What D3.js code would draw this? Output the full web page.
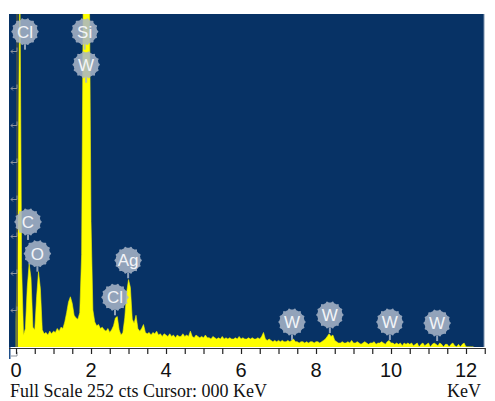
<!DOCTYPE html>
<html>
<head>
<meta charset="utf-8">
<script src="https://cdn.jsdelivr.net/npm/d3@7"></script>
<style>
  html, body { margin: 0; padding: 0; background: #ffffff; }
  svg { display: block; }
</style>
</head>
<body>
<svg id="chart" width="495" height="401"></svg>
<script>
// EDS spectrum: counts per 0.05 keV channel, starting at 0 keV
const channelWidth = 0.05;
const counts = [
  20, 80, 300, 60, 9, 14, 45, 63, 52, 15,
  13, 38, 57, 44, 13, 10, 11, 9, 12, 10,
  12, 11, 14, 12, 15, 14, 19, 26, 34, 38,
  33, 24, 22, 21, 26, 70, 300, 300, 300, 300,
  95, 28, 19, 16, 17, 14, 15, 13, 12, 14,
  11, 13, 16, 22, 23, 13, 9, 11, 22, 41,
  51, 45, 21, 18, 24, 14, 12, 14, 17, 11,
  10, 11, 9, 11, 10, 12, 9, 10, 8, 10,
  9, 8, 10, 8, 9, 7, 9, 8, 8, 10,
  8, 9, 8, 12, 8, 7, 9, 8, 7, 8,
  7, 9, 7, 7, 6, 8, 7, 6, 7, 6,
  8, 6, 7, 6, 7, 6, 6, 7, 6, 8,
  6, 7, 6, 6, 7, 6, 7, 6, 6, 7,
  6, 8, 11, 6, 5, 6, 5, 4, 5, 4,
  5, 4, 5, 4, 4, 5, 4, 5, 6, 4,
  4, 3, 4, 4, 3, 4, 3, 4, 4, 3,
  4, 4, 3, 4, 5, 6, 8, 10, 8, 9,
  5, 4, 3, 3, 4, 3, 3, 4, 3, 5,
  3, 3, 4, 3, 2, 3, 4, 3, 2, 3,
  3, 4, 2, 3, 3, 4, 3, 2, 4, 5,
  3, 3, 2, 3, 2, 3, 1, 3, 2, 3,
  2, 3, 1, 2, 3, 0, 2, 3, 1, 2,
  3, 0, 2, 3, 2, 1, 3, 2, 0, 2,
  2, 0, 2, 3, 1, 0, 2, 0, 2, 3,
  0, 0, 0, 0, 0
];

// Axis ticks
const xTickLabels = [0, 2, 4, 6, 8, 10, 12];
const xMinorStep = 0.5;
const fullScale = 252;
const yTickStep = 28;

// Element markers: symbol, line energy (keV), counts at the marker tip
const markerNames = ["Cl", "Si", "W", "C", "O", "Ag", "Cl", "W", "W", "W", "W"];
const markerKeV   = [0.24, 1.83, 1.87, 0.32, 0.57, 2.99, 2.64, 7.36, 8.37, 9.97, 11.23];
const markerCts   = [225, 225, 200, 81, 57, 52, 24, 5.3, 10.6, 5.3, 4.5];

const svg = d3.select("#chart");
const plot = { left: 9, right: 484, top: 14, bottom: 347 };

const x = d3.scaleLinear().domain([-0.187, 12.48]).range([plot.left, plot.right]);
const y = d3.scaleLinear().domain([0, fullScale]).range([plot.bottom, plot.top]);

// Dark panel
svg.append("rect")
  .attr("x", plot.left).attr("y", plot.top)
  .attr("width", plot.right - plot.left).attr("height", plot.bottom - plot.top)
  .attr("fill", "#073265");

// Thin lighter border on the right edge of the panel
svg.append("line")
  .attr("x1", plot.right).attr("x2", plot.right)
  .attr("y1", plot.top).attr("y2", plot.bottom)
  .attr("stroke", "#7f93ad").attr("stroke-width", 1);

// Left strip running below the panel
svg.append("rect")
  .attr("x", plot.left).attr("y", plot.bottom)
  .attr("width", 1.5).attr("height", 12)
  .attr("fill", "#1f4f8a");

svg.append("clipPath").attr("id", "clip")
  .append("rect")
  .attr("x", plot.left).attr("y", plot.top)
  .attr("width", plot.right - plot.left).attr("height", plot.bottom - plot.top);

// Spectrum
const spectrum = counts.map((c, i) => ({ e: i * channelWidth, c }));
const area = d3.area()
  .x(d => x(d.e))
  .y0(y(0))
  .y1(d => y(d.c));

svg.append("path")
  .datum(spectrum)
  .attr("clip-path", "url(#clip)")
  .attr("d", area)
  .attr("fill", "#ffff00")
  .attr("stroke", "#f2f200")
  .attr("stroke-width", 0.6);

// Vertical counts axis with small hooked tick marks
const axisX = x(0) + 1;
svg.append("line")
  .attr("x1", axisX).attr("x2", axisX)
  .attr("y1", plot.top).attr("y2", plot.bottom)
  .attr("stroke", "#4d5247").attr("stroke-width", 1.5);

const yTicks = d3.range(yTickStep, fullScale, yTickStep);
const yHooks = svg.append("g")
  .attr("fill", "none").attr("stroke", "#8d939c").attr("stroke-width", 1);
yTicks.forEach(t => {
  const yy = Math.round(y(t)) + 0.5;
  yHooks.append("path").attr("d", `M${axisX},${yy - 4}V${yy}H${axisX - 6}`);
  yHooks.append("path").attr("d", `M${axisX - 4},${yy - 2}L${axisX - 6},${yy}L${axisX - 4},${yy + 2}`);
});
// hook below the origin
yHooks.append("path").attr("d", `M${axisX},${plot.bottom + 5}V${plot.bottom + 9}H${axisX - 6}`);

// Energy axis
const xAxis = d3.axisBottom(x)
  .tickValues(d3.range(0, 12.51, xMinorStep))
  .tickSize(6)
  .tickFormat("");
const gx = svg.append("g")
  .attr("transform", `translate(0,${plot.bottom + 1})`)
  .call(xAxis);
gx.select(".domain").attr("stroke", "#333").attr("stroke-width", 1)
  .attr("d", `M${plot.left},0.5H${plot.right + 1}`);
gx.selectAll(".tick line").attr("stroke", "#222").attr("stroke-width", 1.2);

svg.append("g").selectAll("text")
  .data(xTickLabels)
  .join("text")
  .attr("x", d => x(d))
  .attr("y", 377)
  .attr("text-anchor", "middle")
  .attr("font-family", "Liberation Sans, Arial, sans-serif")
  .attr("font-size", 20)
  .attr("fill", "#111")
  .text(d => d);

// Status line
svg.append("text")
  .attr("x", 10).attr("y", 397)
  .attr("font-family", "Liberation Serif, Times New Roman, serif")
  .attr("font-size", 18)
  .attr("fill", "#111")
  .text("Full Scale 252 cts Cursor: 000 KeV");
svg.append("text")
  .attr("x", 447).attr("y", 397)
  .attr("font-family", "Liberation Serif, Times New Roman, serif")
  .attr("font-size", 18)
  .attr("fill", "#111")
  .text("KeV");

// Element marker bubbles with scalloped outline
function bubblePath(cx, cy, r, bumps, amp) {
  const pts = [];
  const n = 96;
  for (let i = 0; i <= n; i++) {
    const a = (i / n) * Math.PI * 2;
    const rr = r + amp * Math.max(0, Math.cos(a * bumps));
    pts.push([cx + rr * Math.cos(a), cy + rr * Math.sin(a)]);
  }
  return d3.line()(pts) + "Z";
}

const markers = markerNames.map((n, i) => ({ n, e: markerKeV[i], c: markerCts[i] }));
const mg = svg.append("g");
const bubbleR = 12.5;
markers.forEach(m => {
  const tx = x(m.e);
  const ty = y(m.c);
  const cy = ty - 18;
  const g = mg.append("g").attr("opacity", 0.86);
  g.append("line")
    .attr("x1", tx).attr("x2", tx)
    .attr("y1", cy + bubbleR).attr("y2", ty)
    .attr("stroke", "#a9b6c8").attr("stroke-width", 2);
  g.append("path")
    .attr("d", bubblePath(tx, cy, bubbleR, 14, 1.3))
    .attr("fill", "#a9b6c8");
  mg.append("text")
    .attr("x", tx).attr("y", cy + 6)
    .attr("text-anchor", "middle")
    .attr("font-family", "Liberation Sans, Arial, sans-serif")
    .attr("font-size", 17)
    .attr("fill", "#f3f5f8")
    .text(m.n);
});
</script>
</body>
</html>
